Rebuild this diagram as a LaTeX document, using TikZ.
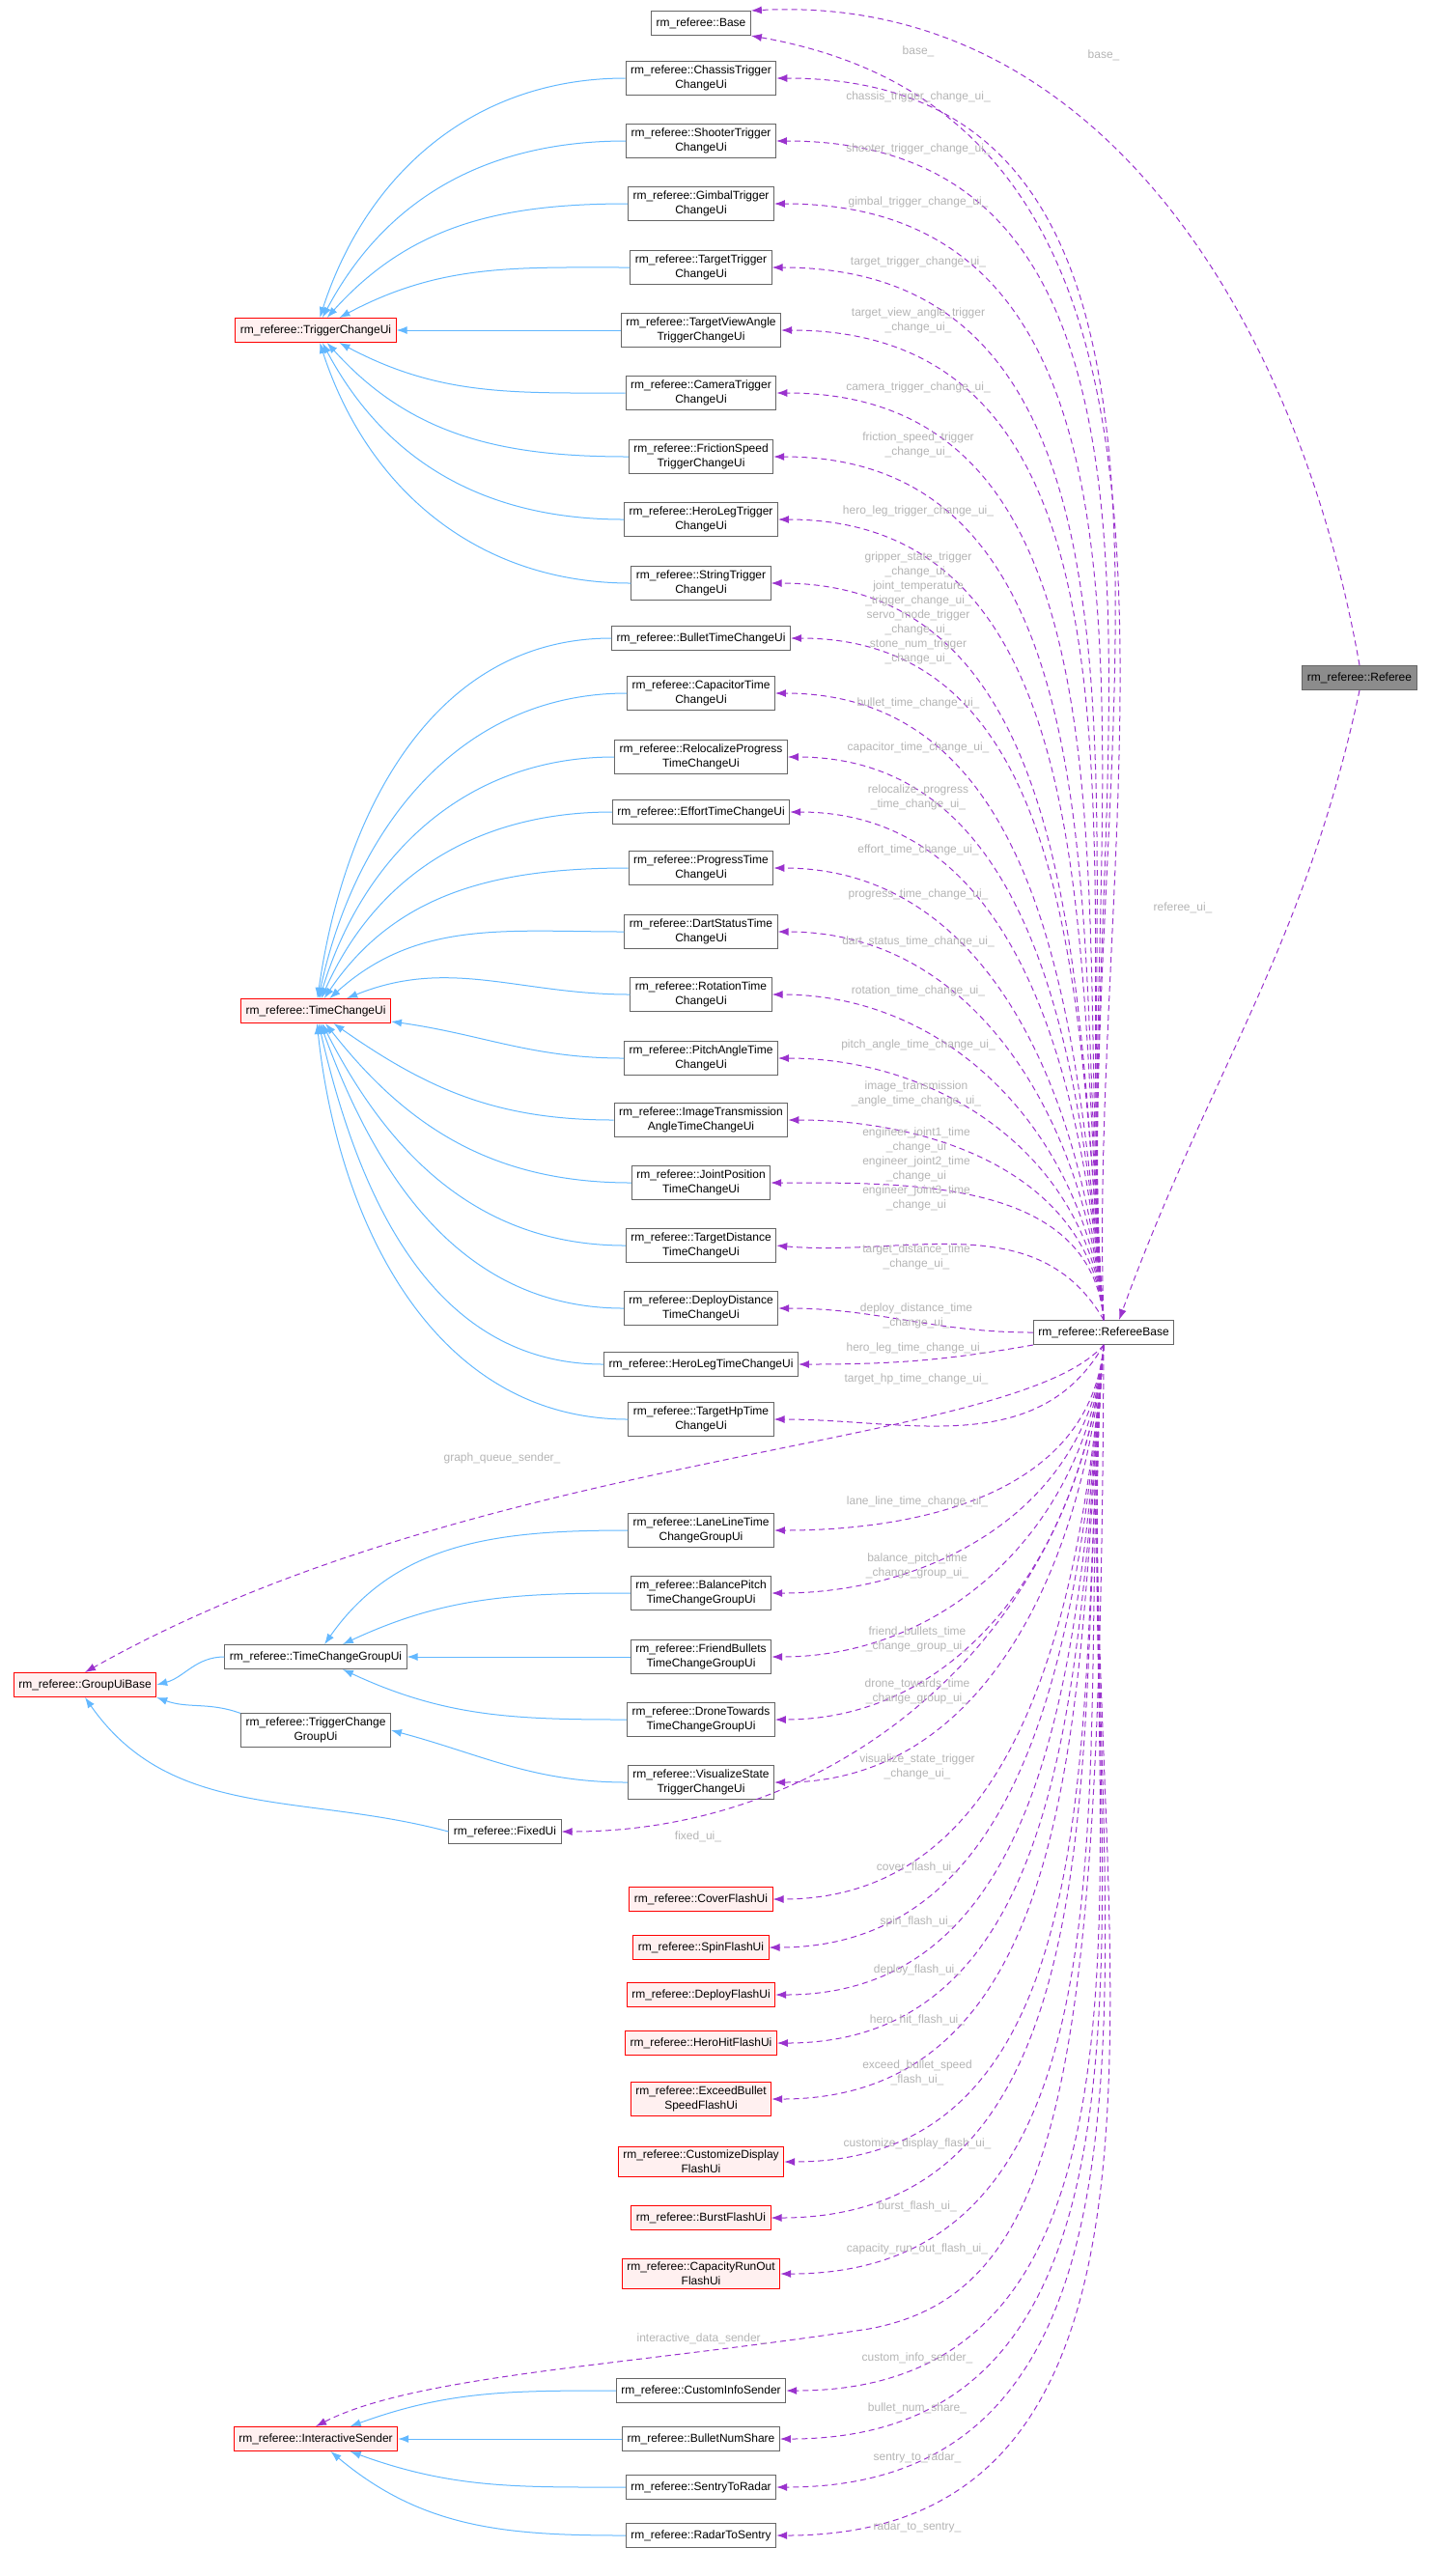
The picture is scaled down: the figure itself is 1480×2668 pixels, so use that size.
\documentclass[tikz,border=0pt]{standalone}
\usepackage{fontspec}
\setmainfont{Liberation Sans}
\usetikzlibrary{arrows.meta}
\definecolor{dep}{HTML}{9A32CD}
\definecolor{inh}{HTML}{63B8FF}
\definecolor{lbl}{HTML}{B4B4B4}
\definecolor{redfill}{HTML}{FFF0F0}
\begin{document}
\begin{tikzpicture}[x=0.25pt,y=-0.25pt,
  box/.style={draw=black!60,fill=white,line width=0.25pt,align=center,font=\fontsize{3}{3.75}\selectfont,inner xsep=1.25pt,inner ysep=1pt,minimum height=6.25pt},
  rbox/.style={box,draw=red,fill=redfill},
  lab/.style={align=center,text=lbl,font=\fontsize{3}{3.75}\selectfont,inner sep=0.25pt},
  depe/.style={draw=dep,line width=0.25pt,dash pattern=on 1.5pt off 1pt,-{Latex[length=2.75pt,width=2pt]}},
  inhe/.style={draw=inh,line width=0.25pt,-{Latex[length=2.75pt,width=2pt]}}]
\useasboundingbox (0,0) rectangle (1480,2668);
% right nodes
\node[box,fill=black!45] (ref) at (1408,702) {rm\_referee::Referee};
\node[box] (rb) at (1143,1380) {rm\_referee::RefereeBase};
% middle column
\node[box] (base) at (726,24) {rm\_referee::Base};
\node[box] (chs) at (726,81) {rm\_referee::ChassisTrigger\\ChangeUi};
\node[box] (sht) at (726,146) {rm\_referee::ShooterTrigger\\ChangeUi};
\node[box] (gmb) at (726,211) {rm\_referee::GimbalTrigger\\ChangeUi};
\node[box] (tgt) at (726,277) {rm\_referee::TargetTrigger\\ChangeUi};
\node[box] (tva) at (726,342) {rm\_referee::TargetViewAngle\\TriggerChangeUi};
\node[box] (cam) at (726,407) {rm\_referee::CameraTrigger\\ChangeUi};
\node[box] (fri) at (726,473) {rm\_referee::FrictionSpeed\\TriggerChangeUi};
\node[box] (hlt) at (726,538) {rm\_referee::HeroLegTrigger\\ChangeUi};
\node[box] (str) at (726,604) {rm\_referee::StringTrigger\\ChangeUi};
\node[box] (bul) at (726,661) {rm\_referee::BulletTimeChangeUi};
\node[box] (cap) at (726,718) {rm\_referee::CapacitorTime\\ChangeUi};
\node[box] (rel) at (726,784) {rm\_referee::RelocalizeProgress\\TimeChangeUi};
\node[box] (eff) at (726,841) {rm\_referee::EffortTimeChangeUi};
\node[box] (prg) at (726,899) {rm\_referee::ProgressTime\\ChangeUi};
\node[box] (drt) at (726,965) {rm\_referee::DartStatusTime\\ChangeUi};
\node[box] (rot) at (726,1030) {rm\_referee::RotationTime\\ChangeUi};
\node[box] (pit) at (726,1096) {rm\_referee::PitchAngleTime\\ChangeUi};
\node[box] (img) at (726,1160) {rm\_referee::ImageTransmission\\AngleTimeChangeUi};
\node[box] (jnt) at (726,1225) {rm\_referee::JointPosition\\TimeChangeUi};
\node[box] (tdi) at (726,1290) {rm\_referee::TargetDistance\\TimeChangeUi};
\node[box] (ddi) at (726,1355) {rm\_referee::DeployDistance\\TimeChangeUi};
\node[box] (hlg) at (726,1413) {rm\_referee::HeroLegTimeChangeUi};
\node[box] (thp) at (726,1470) {rm\_referee::TargetHpTime\\ChangeUi};
\node[box] (lane) at (726,1585) {rm\_referee::LaneLineTime\\ChangeGroupUi};
\node[box] (bal) at (726,1650) {rm\_referee::BalancePitch\\TimeChangeGroupUi};
\node[box] (frb) at (726,1716) {rm\_referee::FriendBullets\\TimeChangeGroupUi};
\node[box] (drn) at (726,1781) {rm\_referee::DroneTowards\\TimeChangeGroupUi};
\node[box] (vis) at (726,1846) {rm\_referee::VisualizeState\\TriggerChangeUi};
\node[box] (fix) at (523,1897) {rm\_referee::FixedUi};
\node[rbox] (cov) at (726,1967) {rm\_referee::CoverFlashUi};
\node[rbox] (spn) at (726,2017) {rm\_referee::SpinFlashUi};
\node[rbox] (dpf) at (726,2066) {rm\_referee::DeployFlashUi};
\node[rbox] (hhf) at (726,2116) {rm\_referee::HeroHitFlashUi};
\node[rbox] (exc) at (726,2174) {rm\_referee::ExceedBullet\\SpeedFlashUi};
\node[rbox] (cus) at (726,2239) {rm\_referee::CustomizeDisplay\\FlashUi};
\node[rbox] (bst) at (726,2297) {rm\_referee::BurstFlashUi};
\node[rbox] (crf) at (726,2355) {rm\_referee::CapacityRunOut\\FlashUi};
\node[box] (cis) at (726,2476) {rm\_referee::CustomInfoSender};
\node[box] (bns) at (726,2526) {rm\_referee::BulletNumShare};
\node[box] (s2r) at (726,2576) {rm\_referee::SentryToRadar};
\node[box] (r2s) at (726,2626) {rm\_referee::RadarToSentry};
% left nodes
\node[rbox] (tcu) at (327,342) {rm\_referee::TriggerChangeUi};
\node[rbox] (tmu) at (327,1047) {rm\_referee::TimeChangeUi};
\node[rbox] (gub) at (88,1745) {rm\_referee::GroupUiBase};
\node[box] (tcg) at (327,1716) {rm\_referee::TimeChangeGroupUi};
\node[box] (trg) at (327,1792) {rm\_referee::TriggerChange\\GroupUi};
\node[rbox] (isd) at (327,2526) {rm\_referee::InteractiveSender};
\coordinate (isdvia) at (900,2412);
% inheritance
\foreach \c/\a in {chs/72,sht/62,gmb/48,tgt/28,tva/0,cam/-28,fri/-48,hlt/-62,str/-72}
  \draw[inhe] (\c.west) to[out=180,in=\a] (tcu);
\foreach \c/\a in {bul/82,cap/78,rel/73,eff/66,prg/56,drt/42,rot/22,pit/-8,img/-35,jnt/-52,tdi/-63,ddi/-70,hlg/-77,thp/-84}
  \draw[inhe] (\c.west) to[out=180,in=\a] (tmu);
\foreach \c/\a in {lane/55,bal/25,frb/0,drn/-25}
  \draw[inhe] (\c.west) to[out=180,in=\a] (tcg);
\draw[inhe] (vis.west) to[out=180,in=-15] (trg.east);
\draw[inhe] (tcg.west) to[out=180,in=15] (gub.east);
\draw[inhe] (trg.north west) to[out=160,in=-20] (gub.south east);
\draw[inhe] (fix.west) to[out=165,in=-55] (gub.south);
\foreach \c/\a in {cis/20,bns/0,s2r/-20,r2s/-40}
  \draw[inhe] (\c.west) to[out=180,in=\a] (isd);
% dependencies
\draw[depe] (ref.north) to[out=100,in=3] (base.north east);
\draw[depe] (rb.north) to[out=92,in=-10] (base.south east);
\draw[depe] (ref.south) to[out=-102,in=70] ([xshift=4pt]rb.north);
\foreach \t in {chs,sht,gmb,tgt,tva,cam,fri,hlt,str,bul,cap,rel,eff,prg,drt,rot,pit,img,jnt}
  \draw[depe] (rb.north) to[out=95,in=0] (\t.east);
\draw[depe] (rb.north) to[out=120,in=-5] (tdi.east);
\draw[depe] (rb.west) to[out=180,in=0] (ddi.east);
\draw[depe] (rb.south west) to[out=190,in=0] (hlg.east);
\draw[depe] (rb.south) to[out=-120,in=0] (thp.east);
\draw[depe] (rb.south) .. controls (1050,1500) and (500,1500) .. (gub.north);
\foreach \t in {lane,bal,frb,drn,vis,fix,cov,spn,dpf,hhf,exc,cus,bst,crf,cis,bns,s2r,r2s}
  \draw[depe] (rb.south) to[out=-95,in=0] (\t.east);
\draw[depe] (rb.south) .. controls (1140,2150) and (1100,2375) .. (isdvia) .. controls (650,2450) and (430,2460) .. (isd.north);
% labels
\node[lab] (l01) at (951,53) {base\_};
\node[lab] (l02) at (1143,57) {base\_};
\node[lab] (l03) at (1225,940) {referee\_ui\_};
\node[lab] (l04) at (951,100) {chassis\_trigger\_change\_ui\_};
\node[lab] (l05) at (951,154) {shooter\_trigger\_change\_ui\_};
\node[lab] (l06) at (951,209) {gimbal\_trigger\_change\_ui\_};
\node[lab] (l07) at (951,271) {target\_trigger\_change\_ui\_};
\node[lab] (l08) at (951,332) {target\_view\_angle\_trigger\\\_change\_ui\_};
\node[lab] (l09) at (951,401) {camera\_trigger\_change\_ui\_};
\node[lab] (l10) at (951,461) {friction\_speed\_trigger\\\_change\_ui\_};
\node[lab] (l11) at (951,529) {hero\_leg\_trigger\_change\_ui\_};
\node[lab] (l12) at (951,630) {gripper\_state\_trigger\\\_change\_ui\_\\joint\_temperature\\\_trigger\_change\_ui\_\\servo\_mode\_trigger\\\_change\_ui\_\\stone\_num\_trigger\\\_change\_ui\_};
\node[lab] (l13) at (951,728) {bullet\_time\_change\_ui\_};
\node[lab] (l14) at (951,774) {capacitor\_time\_change\_ui\_};
\node[lab] (l15) at (951,826) {relocalize\_progress\\\_time\_change\_ui\_};
\node[lab] (l16) at (951,880) {effort\_time\_change\_ui\_};
\node[lab] (l17) at (951,926) {progress\_time\_change\_ui\_};
\node[lab] (l18) at (951,975) {dart\_status\_time\_change\_ui\_};
\node[lab] (l19) at (951,1026) {rotation\_time\_change\_ui\_};
\node[lab] (l20) at (951,1082) {pitch\_angle\_time\_change\_ui\_};
\node[lab] (l21) at (949,1133) {image\_transmission\\\_angle\_time\_change\_ui\_};
\node[lab] (l22) at (949,1211) {engineer\_joint1\_time\\\_change\_ui\\engineer\_joint2\_time\\\_change\_ui\\engineer\_joint3\_time\\\_change\_ui};
\node[lab] (l23) at (949,1302) {target\_distance\_time\\\_change\_ui\_};
\node[lab] (l24) at (949,1363) {deploy\_distance\_time\\\_change\_ui\_};
\node[lab] (l25) at (949,1396) {hero\_leg\_time\_change\_ui\_};
\node[lab] (l26) at (949,1428) {target\_hp\_time\_change\_ui\_};
\node[lab] (l27) at (520,1510) {graph\_queue\_sender\_};
\node[lab] (l28) at (950,1555) {lane\_line\_time\_change\_ui\_};
\node[lab] (l29) at (950,1622) {balance\_pitch\_time\\\_change\_group\_ui\_};
\node[lab] (l30) at (950,1698) {friend\_bullets\_time\\\_change\_group\_ui\_};
\node[lab] (l31) at (950,1752) {drone\_towards\_time\\\_change\_group\_ui\_};
\node[lab] (l32) at (950,1830) {visualize\_state\_trigger\\\_change\_ui\_};
\node[lab] (l33) at (723,1902) {fixed\_ui\_};
\node[lab] (l34) at (950,1934) {cover\_flash\_ui\_};
\node[lab] (l35) at (950,1990) {spin\_flash\_ui\_};
\node[lab] (l36) at (950,2040) {deploy\_flash\_ui\_};
\node[lab] (l37) at (950,2092) {hero\_hit\_flash\_ui\_};
\node[lab] (l38) at (950,2147) {exceed\_bullet\_speed\\\_flash\_ui\_};
\node[lab] (l39) at (950,2220) {customize\_display\_flash\_ui\_};
\node[lab] (l40) at (950,2285) {burst\_flash\_ui\_};
\node[lab] (l41) at (950,2329) {capacity\_run\_out\_flash\_ui\_};
\node[lab] (l42) at (727,2422) {interactive\_data\_sender\_};
\node[lab] (l43) at (950,2442) {custom\_info\_sender\_};
\node[lab] (l44) at (950,2494) {bullet\_num\_share\_};
\node[lab] (l45) at (950,2545) {sentry\_to\_radar\_};
\node[lab] (l46) at (950,2617) {radar\_to\_sentry\_};
\end{tikzpicture}
\end{document}
